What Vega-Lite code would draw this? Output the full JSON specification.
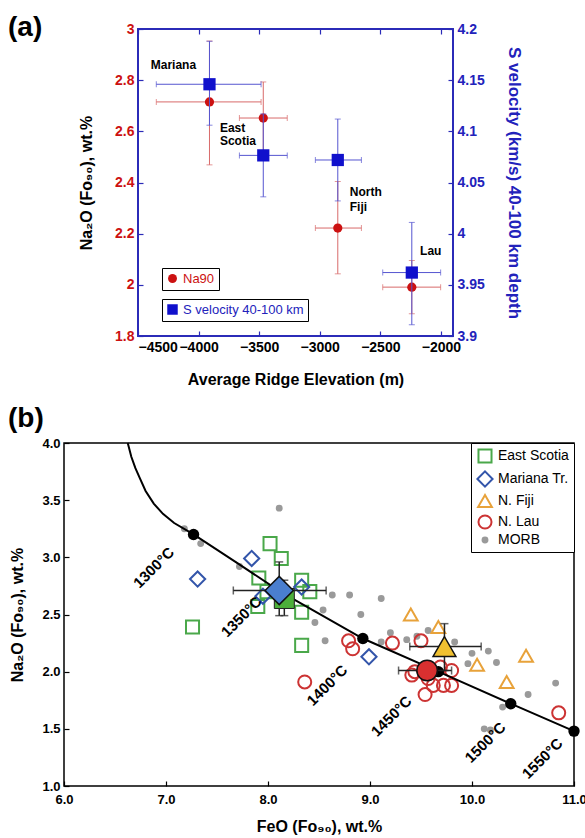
{
  "$schema": "https://vega.github.io/schema/vega-lite/v6.json",
  "background": "white",
  "padding": {"left": 7, "top": 14, "right": 5, "bottom": 5},
  "spacing": 17,
  "columns": 1,
  "resolve": {
    "scale": {"fill": "independent", "stroke": "independent", "shape": "independent", "size": "independent"},
    "legend": {"fill": "independent", "stroke": "independent", "shape": "independent", "size": "independent"}
  },
  "datasets": {
    "pa": [
      {"region": "Mariana", "elev": -3910, "elo": -4349, "ehi": -3484, "na": 2.715, "nlo": 2.469, "nhi": 2.953, "vs": 4.146, "vlo": 4.106, "vhi": 4.188},
      {"region": "East Scotia", "elev": -3466, "elo": -3663, "ehi": -3268, "na": 2.652, "nlo": 2.51, "nhi": 2.793, "vs": 4.0765, "vlo": 4.036, "vhi": 4.117},
      {"region": "North Fiji", "elev": -2851, "elo": -3036, "ehi": -2656, "na": 2.222, "nlo": 2.043, "nhi": 2.404, "vs": 4.072, "vlo": 4.032, "vhi": 4.112},
      {"region": "Lau", "elev": -2240, "elo": -2480, "ehi": -2002, "na": 1.991, "nlo": 1.887, "nhi": 2.095, "vs": 3.962, "vlo": 3.911, "vhi": 4.011}
    ],
    "la": [
      {"t": "Mariana", "ex": -4395, "ny": 2.859},
      {"t": "East", "ex": -3824, "ny": 2.613},
      {"t": "Scotia", "ex": -3824, "ny": 2.563},
      {"t": "North", "ex": -2752, "ny": 2.362},
      {"t": "Fiji", "ex": -2752, "ny": 2.306},
      {"t": "Lau", "ex": -2172, "ny": 2.131}
    ],
    "obs": [
      {"group": "MORB", "feo": 7.18, "na": 3.25}, {"group": "MORB", "feo": 7.34, "na": 3.12},
      {"group": "MORB", "feo": 7.72, "na": 2.92}, {"group": "MORB", "feo": 8.11, "na": 3.43},
      {"group": "MORB", "feo": 8.63, "na": 2.67}, {"group": "MORB", "feo": 8.80, "na": 2.67},
      {"group": "MORB", "feo": 9.11, "na": 2.64}, {"group": "MORB", "feo": 8.54, "na": 2.54},
      {"group": "MORB", "feo": 8.91, "na": 2.50}, {"group": "MORB", "feo": 8.46, "na": 2.43},
      {"group": "MORB", "feo": 8.56, "na": 2.27}, {"group": "MORB", "feo": 9.20, "na": 2.34},
      {"group": "MORB", "feo": 9.11, "na": 2.26}, {"group": "MORB", "feo": 9.36, "na": 2.28},
      {"group": "MORB", "feo": 9.46, "na": 2.31}, {"group": "MORB", "feo": 9.57, "na": 2.36},
      {"group": "MORB", "feo": 9.83, "na": 2.26}, {"group": "MORB", "feo": 10.0, "na": 2.16},
      {"group": "MORB", "feo": 10.16, "na": 2.18}, {"group": "MORB", "feo": 9.96, "na": 2.07},
      {"group": "MORB", "feo": 10.24, "na": 2.08}, {"group": "MORB", "feo": 10.82, "na": 1.90},
      {"group": "MORB", "feo": 10.55, "na": 1.80}, {"group": "MORB", "feo": 10.30, "na": 1.69},
      {"group": "MORB", "feo": 10.12, "na": 1.50}, {"group": "MORB", "feo": 10.18, "na": 1.49},
      {"group": "East Scotia", "feo": 8.02, "na": 3.12}, {"group": "East Scotia", "feo": 8.13, "na": 2.99},
      {"group": "East Scotia", "feo": 7.91, "na": 2.82}, {"group": "East Scotia", "feo": 8.33, "na": 2.80},
      {"group": "East Scotia", "feo": 8.41, "na": 2.70}, {"group": "East Scotia", "feo": 7.90, "na": 2.57},
      {"group": "East Scotia", "feo": 8.33, "na": 2.52}, {"group": "East Scotia", "feo": 7.26, "na": 2.39},
      {"group": "East Scotia", "feo": 8.33, "na": 2.23}, {"group": "East Scotia", "feo": 7.99, "na": 2.70},
      {"group": "Mariana Tr.", "feo": 7.31, "na": 2.81}, {"group": "Mariana Tr.", "feo": 7.84, "na": 2.99},
      {"group": "Mariana Tr.", "feo": 7.95, "na": 2.66}, {"group": "Mariana Tr.", "feo": 8.33, "na": 2.74},
      {"group": "Mariana Tr.", "feo": 8.99, "na": 2.13},
      {"group": "N. Fiji", "feo": 9.40, "na": 2.50}, {"group": "N. Fiji", "feo": 9.67, "na": 2.39},
      {"group": "N. Fiji", "feo": 10.05, "na": 2.06}, {"group": "N. Fiji", "feo": 10.53, "na": 2.14},
      {"group": "N. Fiji", "feo": 10.34, "na": 1.91},
      {"group": "N. Lau", "feo": 8.79, "na": 2.27}, {"group": "N. Lau", "feo": 8.83, "na": 2.20},
      {"group": "N. Lau", "feo": 9.22, "na": 2.25}, {"group": "N. Lau", "feo": 9.50, "na": 2.27},
      {"group": "N. Lau", "feo": 9.41, "na": 1.97}, {"group": "N. Lau", "feo": 9.57, "na": 1.94},
      {"group": "N. Lau", "feo": 9.72, "na": 1.88}, {"group": "N. Lau", "feo": 9.80, "na": 1.88},
      {"group": "N. Lau", "feo": 9.62, "na": 1.88}, {"group": "N. Lau", "feo": 9.54, "na": 1.80},
      {"group": "N. Lau", "feo": 9.69, "na": 2.04}, {"group": "N. Lau", "feo": 9.80, "na": 2.01},
      {"group": "N. Lau", "feo": 10.85, "na": 1.64}, {"group": "N. Lau", "feo": 8.36, "na": 1.91},
      {"group": "N. Lau", "feo": 9.44, "na": 2.00}
    ],
    "curve": [
      {"i": 0, "feo": 6.625, "na": 4.0}, {"i": 1, "feo": 6.66, "na": 3.88},
      {"i": 2, "feo": 6.70, "na": 3.78}, {"i": 3, "feo": 6.74, "na": 3.70},
      {"i": 4, "feo": 6.80, "na": 3.58}, {"i": 5, "feo": 6.88, "na": 3.47},
      {"i": 6, "feo": 6.97, "na": 3.38}, {"i": 7, "feo": 7.08, "na": 3.30},
      {"i": 8, "feo": 7.27, "na": 3.20}, {"i": 9, "feo": 7.70, "na": 2.95},
      {"i": 10, "feo": 8.12, "na": 2.70}, {"i": 11, "feo": 8.93, "na": 2.29},
      {"i": 12, "feo": 9.67, "na": 2.00}, {"i": 13, "feo": 10.38, "na": 1.72},
      {"i": 14, "feo": 11.0, "na": 1.48}
    ],
    "temps": [
      {"T": "1300°C", "feo": 7.27, "na": 3.20, "lx": 6.88, "ly": 2.91},
      {"T": "1350°C", "feo": 8.12, "na": 2.69, "lx": 7.74, "ly": 2.48},
      {"T": "1400°C", "feo": 8.93, "na": 2.29, "lx": 8.58, "ly": 1.88},
      {"T": "1450°C", "feo": 9.67, "na": 2.00, "lx": 9.21, "ly": 1.61},
      {"T": "1500°C", "feo": 10.38, "na": 1.72, "lx": 10.13, "ly": 1.38},
      {"T": "1550°C", "feo": 11.0, "na": 1.48, "lx": 10.69, "ly": 1.24}
    ],
    "means": [
      {"group": "East Scotia", "feo": 8.16, "na": 2.64, "xlo": 8.07, "xhi": 8.25, "ylo": 2.49, "yhi": 2.80},
      {"group": "Mariana Tr.", "feo": 8.11, "na": 2.71, "xlo": 7.66, "xhi": 8.57, "ylo": 2.49, "yhi": 2.96},
      {"group": "N. Lau", "feo": 9.56, "na": 2.01, "xlo": 9.28, "xhi": 9.80, "ylo": 1.96, "yhi": 2.06},
      {"group": "N. Fiji", "feo": 9.73, "na": 2.22, "xlo": 9.39, "xhi": 10.09, "ylo": 2.01, "yhi": 2.42}
    ]
  },
  "concat": [
    {
      "width": 389,
      "height": 307,
      "title": {"text": "(a)", "dx": -56, "dy": 24},
      "view": {"stroke": null},
      "resolve": {"scale": {"y": "independent", "fill": "independent"}, "axis": {"x": "independent"}, "legend": {"fill": "independent"}},
      "layer": [
        {
          "data": {"name": "pa"},
          "layer": [
            {
              "mark": {"type": "rect", "fill": null, "stroke": "#2b2bb8", "strokeWidth": 1.5},
              "encoding": {
                "x": {"datum": -4500, "type": "quantitative", "title": "Average Ridge Elevation (m)",
                  "scale": {"domain": [-4500, -1900], "range": [74, 389], "nice": false, "zero": false},
                  "axis": {"orient": "bottom", "values": [-4500, -4000, -3500, -3000, -2500, -2000], "format": "d", "tickColor": "#2b2bb8", "labelFontSize": 14, "titleFontSize": 16, "titlePadding": 17}},
                "x2": {"datum": -1900},
                "y": {"datum": 1.8, "type": "quantitative", "title": "Na₂O (Fo₉₀), wt.%",
                  "scale": {"domain": [1.8, 3.0], "nice": false, "zero": false},
                  "axis": {"orient": "left", "offset": -74, "values": [1.8, 2, 2.2, 2.4, 2.6, 2.8, 3], "format": "~g", "labelColor": "#cc1111", "tickColor": "#2b2bb8", "labelFontSize": 14, "titleFontSize": 16, "labelFlush": false, "titlePadding": 20}},
                "y2": {"datum": 3.0}
              }
            },
            {
              "mark": {"type": "errorbar", "ticks": true, "size": 6, "thickness": 1, "color": "#d86a6a"},
              "encoding": {
                "x": {"field": "elo", "type": "quantitative", "title": "Average Ridge Elevation (m)"},
                "x2": {"field": "ehi"},
                "y": {"field": "na", "type": "quantitative", "title": "Na₂O (Fo₉₀), wt.%"}
              }
            },
            {
              "mark": {"type": "errorbar", "ticks": true, "size": 6, "thickness": 1, "color": "#d86a6a"},
              "encoding": {
                "x": {"field": "elev", "type": "quantitative", "title": "Average Ridge Elevation (m)"},
                "y": {"field": "nlo", "type": "quantitative", "title": "Na₂O (Fo₉₀), wt.%"},
                "y2": {"field": "nhi"}
              }
            },
            {
              "mark": {"type": "point", "filled": true, "shape": "circle", "size": 85, "opacity": 1},
              "encoding": {
                "x": {"field": "elev", "type": "quantitative", "title": "Average Ridge Elevation (m)"},
                "y": {"field": "na", "type": "quantitative", "title": "Na₂O (Fo₉₀), wt.%"},
                "fill": {"datum": "Na90", "type": "nominal", "scale": {"range": ["#cc1111"]},
                  "legend": {"orient": "none", "legendX": 98, "legendY": 239, "title": null, "strokeColor": "black", "fillColor": "white", "padding": 4, "labelColor": "#cc1111", "labelFontSize": 13, "labelFontWeight": "normal", "symbolType": "circle", "symbolSize": 80, "symbolStrokeWidth": 0}}
              }
            },
            {
              "data": {"name": "la"},
              "mark": {"type": "text", "align": "left", "baseline": "middle", "fontSize": 12, "fontWeight": "bold"},
              "encoding": {
                "x": {"field": "ex", "type": "quantitative", "title": "Average Ridge Elevation (m)"},
                "y": {"field": "ny", "type": "quantitative", "title": "Na₂O (Fo₉₀), wt.%"},
                "text": {"field": "t"}
              }
            }
          ]
        },
        {
          "data": {"name": "pa"},
          "layer": [
            {
              "mark": {"type": "errorbar", "ticks": true, "size": 6, "thickness": 1, "color": "#5555d0"},
              "encoding": {
                "x": {"field": "elo", "type": "quantitative",
                  "axis": {"orient": "top", "labels": false, "title": null, "values": [-4500, -4000, -3500, -3000, -2500, -2000], "tickColor": "#2b2bb8"}},
                "x2": {"field": "ehi"},
                "y": {"field": "vs", "type": "quantitative", "title": "S velocity (km/s) 40-100 km depth",
                  "scale": {"domain": [3.9, 4.2], "nice": false, "zero": false},
                  "axis": {"orient": "right", "values": [3.9, 3.95, 4, 4.05, 4.1, 4.15, 4.2], "format": "~g", "labelColor": "#2222bb", "titleColor": "#2222bb", "tickColor": "#2b2bb8", "labelFontSize": 14, "titleFontSize": 17, "labelFlush": false, "titlePadding": 20}}
              }
            },
            {
              "mark": {"type": "errorbar", "ticks": true, "size": 6, "thickness": 1, "color": "#5555d0"},
              "encoding": {
                "x": {"field": "elev", "type": "quantitative", "axis": {"orient": "top", "labels": false, "title": null}},
                "y": {"field": "vlo", "type": "quantitative", "title": "S velocity (km/s) 40-100 km depth"},
                "y2": {"field": "vhi"}
              }
            },
            {
              "mark": {"type": "point", "filled": true, "shape": "square", "size": 150, "opacity": 1},
              "encoding": {
                "x": {"field": "elev", "type": "quantitative", "axis": {"orient": "top", "labels": false, "title": null}},
                "y": {"field": "vs", "type": "quantitative", "title": "S velocity (km/s) 40-100 km depth"},
                "fill": {"datum": "S velocity 40-100 km", "type": "nominal", "scale": {"range": ["#1010cc"]},
                  "legend": {"orient": "none", "legendX": 98, "legendY": 270, "title": null, "strokeColor": "black", "fillColor": "white", "padding": 4, "labelColor": "#2222bb", "labelFontSize": 13, "labelFontWeight": "normal", "symbolType": "square", "symbolSize": 110, "symbolStrokeWidth": 0}}
              }
            }
          ]
        }
      ]
    },
    {
      "width": 510,
      "height": 343,
      "title": {"text": "(b)", "dx": -56},
      "view": {"stroke": "black", "strokeWidth": 1.5},
      "encoding": {
        "x": {"type": "quantitative", "title": "FeO (Fo₉₀), wt.%",
          "scale": {"domain": [6, 11], "nice": false, "zero": false},
          "axis": {"values": [6, 7, 8, 9, 10, 11], "format": ".1f", "labelFlush": false, "labelPadding": 12, "titlePadding": 12}},
        "y": {"type": "quantitative", "title": "Na₂O (Fo₉₀), wt.%",
          "scale": {"domain": [1, 4], "nice": false, "zero": false},
          "axis": {"values": [1, 1.5, 2, 2.5, 3, 3.5, 4], "format": ".1f", "labelFlush": false, "titlePadding": 16}}
      },
      "layer": [
        {
          "data": {"name": "obs"},
          "mark": {"type": "point", "filled": true, "strokeWidth": 2, "opacity": 1},
          "encoding": {
            "x": {"field": "feo", "type": "quantitative"},
            "y": {"field": "na", "type": "quantitative"},
            "shape": {"field": "group", "type": "nominal",
              "scale": {"domain": ["East Scotia", "Mariana Tr.", "N. Fiji", "N. Lau", "MORB"], "range": ["square", "diamond", "triangle-up", "circle", "circle"]},
              "legend": {"title": null, "orient": "top-right", "offset": 0, "strokeColor": "black", "fillColor": "white", "padding": 5, "labelFontSize": 14, "labelFontWeight": "normal", "rowPadding": 0, "symbolStrokeWidth": 2, "labelColor": "black"}},
            "stroke": {"field": "group", "type": "nominal",
              "scale": {"domain": ["East Scotia", "Mariana Tr.", "N. Fiji", "N. Lau", "MORB"], "range": ["#4aa84a", "#3355aa", "#e8a23a", "#cc3333", "#9a9a9a"]}},
            "fill": {"field": "group", "type": "nominal",
              "scale": {"domain": ["East Scotia", "Mariana Tr.", "N. Fiji", "N. Lau", "MORB"], "range": ["transparent", "transparent", "transparent", "transparent", "#9a9a9a"]}},
            "size": {"field": "group", "type": "nominal",
              "scale": {"type": "ordinal", "domain": ["East Scotia", "Mariana Tr.", "N. Fiji", "N. Lau", "MORB"], "range": [170, 230, 190, 170, 24]}}
          }
        },
        {
          "data": {"name": "curve"},
          "mark": {"type": "line", "color": "black", "strokeWidth": 2},
          "encoding": {
            "x": {"field": "feo", "type": "quantitative"},
            "y": {"field": "na", "type": "quantitative"},
            "order": {"field": "i"}
          }
        },
        {
          "data": {"name": "temps"},
          "mark": {"type": "point", "filled": true, "shape": "circle", "size": 130, "color": "black", "opacity": 1},
          "encoding": {
            "x": {"field": "feo", "type": "quantitative"},
            "y": {"field": "na", "type": "quantitative"}
          }
        },
        {
          "data": {"name": "means"},
          "mark": {"type": "errorbar", "ticks": true, "size": 8, "thickness": 1.5, "color": "#222222"},
          "encoding": {
            "x": {"field": "xlo", "type": "quantitative"},
            "x2": {"field": "xhi"},
            "y": {"field": "na", "type": "quantitative"}
          }
        },
        {
          "data": {"name": "means"},
          "mark": {"type": "errorbar", "ticks": true, "size": 8, "thickness": 1.5, "color": "#222222"},
          "encoding": {
            "x": {"field": "feo", "type": "quantitative"},
            "y": {"field": "ylo", "type": "quantitative"},
            "y2": {"field": "yhi"}
          }
        },
        {
          "data": {"name": "means"},
          "transform": [{"filter": "datum.group === 'East Scotia'"}],
          "mark": {"type": "point", "shape": "square", "filled": true, "size": 400, "fill": "#4caf3a", "stroke": "#222222", "strokeWidth": 1, "opacity": 1},
          "encoding": {"x": {"field": "feo", "type": "quantitative"}, "y": {"field": "na", "type": "quantitative"}}
        },
        {
          "data": {"name": "means"},
          "transform": [{"filter": "datum.group === 'Mariana Tr.'"}],
          "mark": {"type": "point", "shape": "diamond", "filled": true, "size": 800, "fill": "#4a7fcf", "stroke": "#111111", "strokeWidth": 1.5, "opacity": 1},
          "encoding": {"x": {"field": "feo", "type": "quantitative"}, "y": {"field": "na", "type": "quantitative"}}
        },
        {
          "data": {"name": "means"},
          "transform": [{"filter": "datum.group === 'N. Lau'"}],
          "mark": {"type": "point", "shape": "circle", "filled": true, "size": 420, "fill": "#d93030", "stroke": "#111111", "strokeWidth": 1.5, "opacity": 1},
          "encoding": {"x": {"field": "feo", "type": "quantitative"}, "y": {"field": "na", "type": "quantitative"}}
        },
        {
          "data": {"name": "means"},
          "transform": [{"filter": "datum.group === 'N. Fiji'"}],
          "mark": {"type": "point", "shape": "triangle-up", "filled": true, "size": 520, "fill": "#f0c030", "stroke": "#111111", "strokeWidth": 1.5, "opacity": 1},
          "encoding": {"x": {"field": "feo", "type": "quantitative"}, "y": {"field": "na", "type": "quantitative"}}
        },
        {
          "data": {"name": "temps"},
          "mark": {"type": "text", "angle": 315, "fontSize": 15, "fontWeight": "bold", "align": "center", "baseline": "middle", "color": "black"},
          "encoding": {
            "x": {"field": "lx", "type": "quantitative"},
            "y": {"field": "ly", "type": "quantitative"},
            "text": {"field": "T"}
          }
        }
      ]
    }
  ],
  "config": {
    "font": "Liberation Sans",
    "view": {"stroke": "black"},
    "title": {"font": "Liberation Sans", "fontSize": 28, "fontWeight": "bold", "anchor": "start", "frame": "group", "color": "black", "offset": 4},
    "axis": {
      "grid": false, "domain": false, "tickSize": -5, "labelPadding": 9, "tickWidth": 1.2, "tickColor": "black",
      "labelFont": "Liberation Sans", "titleFont": "Liberation Sans", "labelFontWeight": "bold", "titleFontWeight": "bold",
      "labelFontSize": 13, "titleFontSize": 16, "labelColor": "black", "titleColor": "black"
    },
    "legend": {"labelFont": "Liberation Sans"}
  }
}
